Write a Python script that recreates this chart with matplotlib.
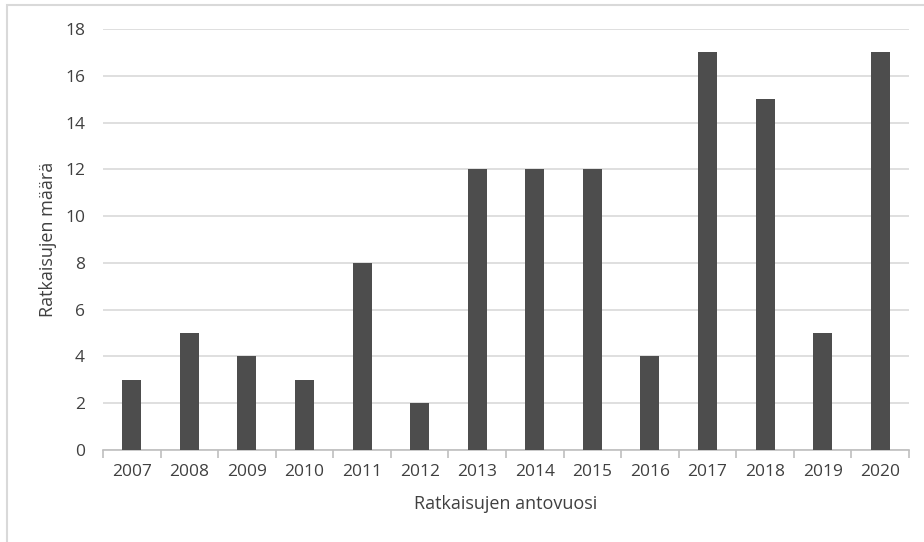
import matplotlib
matplotlib.use("Agg")
import matplotlib.pyplot as plt
from matplotlib.patches import Rectangle
import numpy as np

years = ["2007", "2008", "2009", "2010", "2011", "2012", "2013",
         "2014", "2015", "2016", "2017", "2018", "2019", "2020"]
counts = [3, 5, 4, 3, 8, 2, 12, 12, 12, 4, 17, 15, 5, 17]
y_ticks = [0, 2, 4, 6, 8, 10, 12, 14, 16, 18]

plt.rcParams['font.family'] = ['Open Sans', 'DejaVu Sans']

W, H = 924, 542
fig = plt.figure(figsize=(W / 100, H / 100), dpi=100)

# outer frame of the chart area (left and top edges visible)
fig.add_artist(Rectangle((7 / W, -0.1), 1.2, 1.1 - 5 / H, transform=fig.transFigure,
                         fill=False, edgecolor='#d9d9d9', linewidth=1.5))

ax = fig.add_axes([103 / W, 1 - 450 / H, (909 - 103) / W, (450 - 29) / H])

x = np.arange(len(years))
ax.bar(x, counts, width=0.33, color='#4d4d4d', zorder=3)

ax.set_xlim(-0.5, len(years) - 0.5)
ax.set_ylim(0, 18)
ax.set_yticks(y_ticks)
ax.yaxis.grid(True, color='#d9d9d9', linewidth=1.2, zorder=0)

ax.set_xticks(x)
ax.set_xticklabels(years)
ax.set_xticks(np.arange(len(years) + 1) - 0.5, minor=True)
ax.tick_params(axis='x', which='major', length=0, pad=10, labelsize=12.5, labelcolor='#404040')
ax.tick_params(axis='x', which='minor', length=6, color='#bfbfbf', width=1.2)
ax.tick_params(axis='y', length=0, pad=13, labelsize=12.5, labelcolor='#404040')

for side in ['top', 'right', 'left']:
    ax.spines[side].set_visible(False)
ax.spines['bottom'].set_color('#bfbfbf')
ax.spines['bottom'].set_linewidth(1.2)

ax.set_xlabel('Ratkaisujen antovuosi', fontsize=13, color='#404040', labelpad=11)
ax.set_ylabel('Ratkaisujen määrä', fontsize=13, color='#404040', labelpad=6)

fig.savefig('out.png', dpi=100)
